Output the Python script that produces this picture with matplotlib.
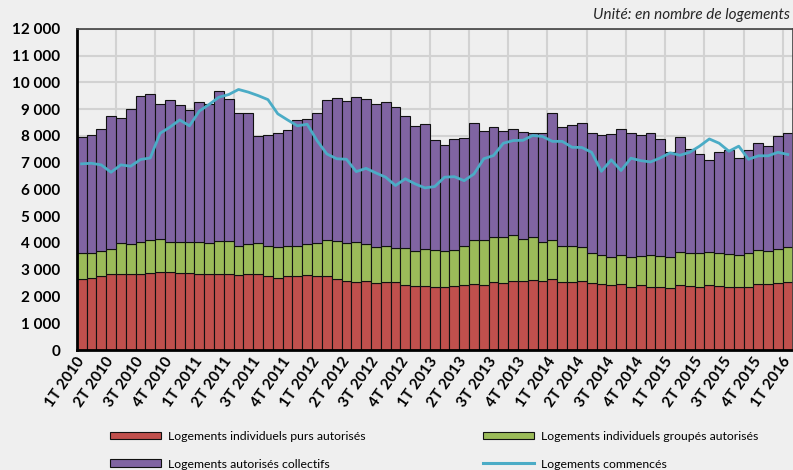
import numpy as np
import matplotlib
matplotlib.use("Agg")
import matplotlib.pyplot as plt
from matplotlib.patches import Patch
from matplotlib.lines import Line2D

plt.rcParams['font.family'] = ['Lato', 'DejaVu Sans']

# Data (monthly, Jan 2010 -> Jan 2016)
quarter_labels = [
    "1T 2010", "2T 2010", "3T 2010", "4T 2010",
    "1T 2011", "2T 2011", "3T 2011", "4T 2011",
    "1T 2012", "2T 2012", "3T 2012", "4T 2012",
    "1T 2013", "2T 2013", "3T 2013", "4T 2013",
    "1T 2014", "2T 2014", "3T 2014", "4T 2014",
    "1T 2015", "2T 2015", "3T 2015", "4T 2015",
    "1T 2016",
]

indiv_purs = [
    2655, 2700, 2780, 2830, 2840, 2840, 2830, 2880, 2900, 2900, 2880, 2880,
    2840, 2830, 2840, 2830, 2800, 2830, 2840, 2780, 2700, 2750, 2780, 2800,
    2770, 2770, 2640, 2580, 2555, 2570, 2490, 2540, 2540, 2440, 2390, 2390,
    2370, 2340, 2390, 2440, 2470, 2440, 2540, 2505, 2590, 2570, 2620, 2570,
    2640, 2540, 2555, 2570, 2490, 2470, 2440, 2470, 2370, 2420, 2370, 2370,
    2320, 2440, 2390, 2370, 2440, 2390, 2370, 2360, 2370, 2470, 2470, 2505,
    2540,
]

indiv_groupes = [
    960, 930, 935, 950, 1175, 1125, 1210, 1235, 1250, 1150, 1160, 1160,
    1210, 1160, 1240, 1250, 1080, 1135, 1160, 1100, 1160, 1130, 1120, 1180,
    1230, 1330, 1450, 1430, 1475, 1410, 1350, 1340, 1290, 1390, 1320, 1390,
    1370, 1370, 1350, 1440, 1630, 1660, 1670, 1705, 1720, 1590, 1590, 1480,
    1470, 1350, 1335, 1280, 1140, 1095, 1050, 1095, 1095, 1095, 1170, 1130,
    1160, 1225, 1250, 1260, 1210, 1240, 1220, 1180, 1270, 1260, 1220, 1275,
    1300,
]

collectifs = [
    4365, 4410, 4535, 4950, 4665, 5055, 5450, 5445, 5050, 5280, 5130, 4950,
    5210, 5210, 5600, 5310, 4990, 4885, 4000, 4150, 4260, 4350, 4680, 4640,
    4870, 5230, 5320, 5290, 5430, 5400, 5340, 5400, 5250, 4910, 4660, 4660,
    4120, 3960, 4150, 4040, 4380, 4090, 4120, 3970, 3940, 4000, 3920, 4050,
    4760, 4440, 4530, 4630, 4470, 4465, 4580, 4685, 4635, 4515, 4580, 4370,
    3910, 4305, 3880, 3710, 3440, 3780, 3890, 3640, 3820, 3990, 3940, 4230,
    4290,
]

commences = [
    6960, 6980, 6920, 6645, 6920, 6870, 7120, 7180, 8100, 8330, 8600, 8380,
    8930, 9180, 9450, 9550, 9740, 9640, 9510, 9360, 8830, 8600, 8380, 8440,
    7830, 7330, 7150, 7130, 6670, 6790, 6620, 6460, 6150, 6400, 6210, 6060,
    6110, 6460, 6480, 6330, 6580, 7150, 7270, 7730, 7830, 7840, 8020, 7980,
    7800, 7800, 7580, 7570, 7390, 6680, 7110, 6710, 7170, 7080, 7030, 7180,
    7370, 7280, 7390, 7620, 7890, 7730, 7430, 7620, 7130, 7260, 7260, 7390,
    7310,
]

bg = '#efefef'
c_purs = '#c0504d'
c_grp = '#9bbb59'
c_coll = '#8064a2'
c_line = '#4bacc6'

x = np.arange(len(indiv_purs))
purs = np.array(indiv_purs)
grp = np.array(indiv_groupes)
coll = np.array(collectifs)

fig = plt.figure(figsize=(7.93, 4.70), dpi=100, facecolor=bg)
ax = fig.add_axes([76.7 / 793, 1 - 350 / 470, 716 / 793, 321 / 470])
ax.set_facecolor(bg)

bar_kw = dict(width=1.0, edgecolor='#111111', linewidth=0.8, zorder=2)
ax.bar(x, purs, color=c_purs, **bar_kw)
ax.bar(x, grp, bottom=purs, color=c_grp, **bar_kw)
ax.bar(x, coll, bottom=purs + grp, color=c_coll, **bar_kw)
ax.plot(x, commences, color=c_line, lw=2.0, zorder=3)

# axes
ax.set_xlim(-0.5, len(x) - 0.5)
ax.set_ylim(0, 12000)
yt = np.arange(0, 12001, 1000)
ax.set_yticks(yt)
ax.set_yticklabels([f"{v:,}".replace(",", " ") for v in yt],
                   fontweight='bold', fontsize=11)

ax.set_xticks(np.arange(0, len(x), 3))
ax.set_xticklabels(quarter_labels, rotation=55, ha='right', va='center',
                   rotation_mode='anchor', fontweight='bold', fontsize=11)
ax.set_xticks(np.arange(3.5, len(x) - 1, 4), minor=True)
ax.tick_params(which='both', length=0)
ax.tick_params(axis='x', pad=6)
ax.tick_params(axis='y', pad=12)

ax.set_axisbelow(True)
ax.grid(axis='y', which='major', color='#d2d2d2', lw=1.5)
ax.grid(axis='x', which='minor', color='#d2d2d2', lw=1.5)

for s in ['left', 'bottom']:
    ax.spines[s].set_color('black')
    ax.spines[s].set_linewidth(2)
for s in ['top', 'right']:
    ax.spines[s].set_color('#404040')
    ax.spines[s].set_linewidth(1.2)

fig.text(790 / 793, 1 - 15 / 470, "Unité: en nombre de logements",
         ha='right', va='center', style='italic', fontsize=11, color='#262626')

# legend, two columns placed by hand
leg_kw = dict(loc='upper left', frameon=False, fontsize=8.8, handlelength=4.2,
              handleheight=0.55, handletextpad=0.55, labelspacing=1.35,
              borderpad=0, borderaxespad=0)
h1 = [Patch(facecolor=c_purs, edgecolor='#111111', lw=0.8),
      Patch(facecolor=c_coll, edgecolor='#111111', lw=0.8)]
leg1 = fig.legend(h1, ["Logements individuels purs autorisés",
                       "Logements autorisés collectifs"],
                  bbox_to_anchor=(110 / 793, 1 - 431 / 470), **leg_kw)
h2 = [Patch(facecolor=c_grp, edgecolor='#111111', lw=0.8),
      Line2D([], [], color=c_line, lw=2.2)]
leg2 = fig.legend(h2, ["Logements individuels groupés autorisés",
                       "Logements commencés"],
                  bbox_to_anchor=(483 / 793, 1 - 431 / 470), **leg_kw)

fig.savefig("out.png", dpi=100, facecolor=bg)
